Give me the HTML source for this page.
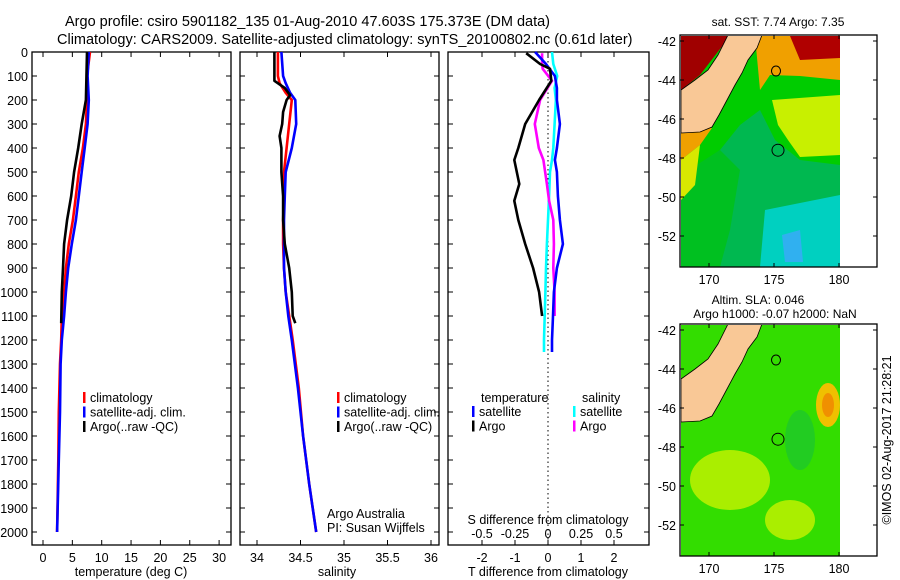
<!DOCTYPE html>
<html><head><meta charset="utf-8"><style>
html,body{margin:0;padding:0;background:#fff;width:900px;height:580px;overflow:hidden}
svg{display:block;font-family:"Liberation Sans",sans-serif}
text{font-size:12.5px;fill:#000}
</style></head><body>
<svg id="fig" width="900" height="580" viewBox="0 0 900 580">
<text x="65" y="26" style="font-size:14.5px">Argo profile: csiro 5901182_135 01-Aug-2010 47.603S 175.373E (DM data)</text>
<text x="57" y="44" style="font-size:14.5px">Climatology: CARS2009. Satellite-adjusted climatology: synTS_20100802.nc (0.61d later)</text>
<g id="p1"></g>
<g id="p2"></g>
<g id="p3"></g>
<g id="m1"></g>
<g id="m2"></g>
<text transform="translate(891,440) rotate(-90)" text-anchor="middle">©IMOS 02-Aug-2017 21:28:21</text>
</svg>
<script>
// ---- data ----
const depthTicks = [0,100,200,300,400,500,600,700,800,900,1000,1100,1200,1300,1400,1500,1600,1700,1800,1900,2000];
const tempTicks = [0,5,10,15,20,25,30];
const salTicks = [34,34.5,35,35.5,36];
const tdiffTicks = [-2,-1,0,1,2];
const sdiffTicks = [-0.5,-0.25,0,0.25,0.5];

const climDepth = [0,100,200,300,400,500,600,700,800,900,1000,1100,1200,1300,1500,1700,2000];
const climTemp = [8.0,7.5,7.5,7.3,6.8,6.1,5.6,5.1,4.4,3.9,3.6,3.2,3.1,2.9,2.7,2.6,2.4];
const satTemp  = [7.8,7.6,7.8,7.6,7.1,6.6,6.1,5.6,4.9,4.3,3.9,3.6,3.2,3.0,2.9,2.7,2.4];
const argoDepth = [0,200,300,400,500,600,700,800,900,1000,1130];
const argoTemp = [7.5,7.3,6.6,6.0,5.3,4.8,4.1,3.6,3.4,3.2,3.1];

const salDepth = [0,100,130,170,200,300,400,500,600,700,800,900,1000,1100,1200,1400,1600,1800,2000];
const climSal = [34.24,34.24,34.26,34.33,34.40,34.37,34.34,34.31,34.31,34.30,34.30,34.31,34.33,34.37,34.41,34.48,34.53,34.60,34.68];
const satSal  = [34.28,34.30,34.33,34.38,34.44,34.45,34.40,34.33,34.32,34.31,34.31,34.31,34.33,34.36,34.40,34.47,34.53,34.60,34.68];
const argoSalDepth = [0,120,150,180,200,250,300,350,400,500,600,700,800,900,1000,1100,1130];
const argoSal = [34.20,34.20,34.32,34.38,34.34,34.30,34.29,34.26,34.28,34.28,34.30,34.30,34.32,34.37,34.40,34.41,34.44];

const dDepthArgo = [5,50,70,120,200,300,400,450,550,620,700,800,900,1000,1100];
const dTempArgo = [-0.66,-0.24,0.06,0.1,-0.27,-0.69,-0.9,-1.02,-0.87,-1.02,-0.9,-0.69,-0.45,-0.27,-0.18];
const dSalArgo  = [-0.045,-0.045,-0.04,0.03,-0.06,-0.1,-0.07,-0.035,-0.008,0.008,0.04,0.045,0.04,0.05,0.05];
const dDepthSat = [0,50,100,150,200,300,400,450,500,600,700,800,900,1000,1100,1200,1250];
const dTempSat = [-0.39,-0.06,0.21,0.27,0.27,0.36,0.27,0.21,0.27,0.3,0.36,0.45,0.27,0.18,0.15,0.12,0.12];
const dSalSat  = [0.03,0.04,0.07,0.05,0.06,0.05,0.04,0.03,0.015,0.008,0,-0.008,-0.015,-0.02,-0.025,-0.03,-0.03];

// ---- helpers ----
const NS='http://www.w3.org/2000/svg';
function mk(parent,tag,attrs,txt){const e=document.createElementNS(NS,tag);for(const k in attrs)e.setAttribute(k,attrs[k]);if(txt!==undefined)e.textContent=txt;parent.appendChild(e);return e;}
const yD = d => 52 + d*0.24;
const TOP=52, BOT=545;

function frame(g,x0,x1,name){
  const r=mk(g,'rect',{x:x0,y:TOP,width:x1-x0,height:BOT-TOP,fill:'none',stroke:'#000','stroke-width':1.3});
  
  
  depthTicks.forEach(d=>{
    mk(g,'line',{x1:x0,x2:x0+5,y1:yD(d),y2:yD(d),stroke:'#000'});
    mk(g,'line',{x1:x1,x2:x1-5,y1:yD(d),y2:yD(d),stroke:'#000'});
  });
}
function xTicks(g,vals,sx,x0,x1,lbl){
  vals.forEach(v=>{const x=sx(v);
    mk(g,'line',{x1:x,x2:x,y1:TOP,y2:TOP+5,stroke:'#000'});
    mk(g,'line',{x1:x,x2:x,y1:BOT,y2:BOT-5,stroke:'#000'});
    if(lbl){const t=mk(g,'text',{x:x,y:BOT+17,'text-anchor':'middle'},String(v));
      
      }
  });
}
function line(g,xs,ds,sx,color,name,w){
  const pts=xs.map((v,i)=>sx(v).toFixed(1)+','+yD(ds[i]).toFixed(1)).join(' ');
  const p=mk(g,'polyline',{points:pts,fill:'none',stroke:color,'stroke-width':w||2.6,'stroke-linejoin':'round'});
  
  
}
function legend(g,x,y,items){
  items.forEach((it,i)=>{
    mk(g,'rect',{x:x,y:y+i*14.5-10,width:2.5,height:11,fill:it[0]});
    const t=mk(g,'text',{x:x+7,y:y+i*14.5},it[1]);
    
    
  });
}

// ---- panel 1 ----
const p1=document.getElementById('p1');
const sxT = v => 43 + v*5.87;
frame(p1,32,231,'temperature-axes');
depthTicks.forEach(d=>{const t=mk(p1,'text',{x:28,y:yD(d)+5,'text-anchor':'end'},String(d));
  
  });
xTicks(p1,tempTicks,sxT,32,231,true);
line(p1,climTemp,climDepth,sxT,'#f00','temp-climatology-line');
line(p1,satTemp,climDepth,sxT,'#00f','temp-satellite-line');
line(p1,argoTemp,argoDepth,sxT,'#000','temp-argo-line');
mk(p1,'text',{x:131,y:576,'text-anchor':'middle'},'temperature (deg C)');
legend(p1,83,402,[['#f00','climatology'],['#00f','satellite-adj. clim.'],['#000','Argo(..raw -QC)']]);

// ---- panel 2 ----
const p2=document.getElementById('p2');
const sxS = v => 257 + (v-34)*87;
frame(p2,240,439,'salinity-axes');
xTicks(p2,salTicks,sxS,240,439,true);
line(p2,climSal,salDepth,sxS,'#f00','sal-climatology-line');
line(p2,satSal,salDepth,sxS,'#00f','sal-satellite-line');
line(p2,argoSal,argoSalDepth,sxS,'#000','sal-argo-line');
mk(p2,'text',{x:337,y:576,'text-anchor':'middle'},'salinity');
legend(p2,337,402,[['#f00','climatology'],['#00f','satellite-adj. clim.'],['#000','Argo(..raw -QC)']]);
mk(p2,'text',{x:327,y:518},'Argo Australia');
mk(p2,'text',{x:327,y:532},'PI: Susan Wijffels');

// ---- panel 3 ----
const p3=document.getElementById('p3');
const sxDT = v => 548 + v*33;
const sxDS = v => 548 + v*132;
frame(p3,448,649,'difference-axes');
xTicks(p3,tdiffTicks,sxDT,448,649,true);
mk(p3,'line',{x1:548,x2:548,y1:TOP,y2:BOT,stroke:'#000','stroke-dasharray':'1.5,3'});
sdiffTicks.forEach(v=>{const t=mk(p3,'text',{x:sxDS(v),y:538,'text-anchor':'middle'},String(v));
  
  });
mk(p3,'text',{x:548,y:524,'text-anchor':'middle'},'S difference from climatology');
mk(p3,'text',{x:548,y:576,'text-anchor':'middle'},'T difference from climatology');
line(p3,dSalSat,dDepthSat,sxDS,'#0ff','sdiff-satellite-line');
line(p3,dSalArgo,dDepthArgo,sxDS,'#f0f','sdiff-argo-line');
line(p3,dTempSat,dDepthSat,sxDT,'#00f','tdiff-satellite-line');
line(p3,dTempArgo,dDepthArgo,sxDT,'#000','tdiff-argo-line');
mk(p3,'text',{x:481,y:402},'temperature');
mk(p3,'text',{x:582,y:402},'salinity');
legend(p3,472,416,[['#00f','satellite'],['#000','Argo']]);
legend(p3,573,416,[['#0ff','satellite'],['#f0f','Argo']]);

// ---- maps ----
const latTicks=[-42,-44,-46,-48,-50,-52];
const lonTicks=[170,175,180];
function map(id,y0,title,title2,layers){
  const g=document.getElementById(id);
  const X=lon=>683+(lon-168)*13, Y=lat=>y0+6+(-42-lat)*19.5;
  const cid='clip'+id;
  const cp=mk(g,'clipPath',{id:cid});mk(cp,'rect',{x:681,y:y0+1,width:159,height:231});
  const inner=mk(g,'g',{'clip-path':'url(#'+cid+')'});
  layers.forEach(l=>mk(inner,l[0],l[1]));
  // land
  mk(inner,'polygon',{points:'728,'+(y0)+' 762,'+(y0)+' 757,'+(y0+13)+' 748,'+(y0+25)+' 742,'+(y0+38)+' 735,'+(y0+50)+' 727,'+(y0+65)+' 719,'+(y0+80)+' 712,'+(y0+92)+' 700,'+(y0+97)+' 681,'+(y0+98)+' 681,'+(y0+55)+' 695,'+(y0+45)+' 708,'+(y0+35)+' 718,'+(y0+20),fill:'#f9c896',stroke:'#000','stroke-width':0.8});
  mk(inner,'ellipse',{cx:776,cy:y0+36,rx:4.5,ry:5,fill:'none',stroke:'#000'});
  mk(inner,'circle',{cx:778,cy:Y(-47.6),r:6,fill:'none',stroke:'#000'});
  const r=mk(g,'rect',{x:680,y:y0,width:197,height:232,fill:'none',stroke:'#000','stroke-width':1.3});
  
  
  latTicks.forEach(l=>{const y=Y(l);
    mk(g,'line',{x1:680,x2:684,y1:y,y2:y,stroke:'#000'});mk(g,'line',{x1:877,x2:873,y1:y,y2:y,stroke:'#000'});
    const t=mk(g,'text',{x:676,y:y+5,'text-anchor':'end'},String(l));
    
    });
  lonTicks.forEach(l=>{const x=X(l);
    mk(g,'line',{x1:x,x2:x,y1:y0,y2:y0+4,stroke:'#000'});mk(g,'line',{x1:x,x2:x,y1:y0+232,y2:y0+228,stroke:'#000'});
    const t=mk(g,'text',{x:x,y:y0+249,'text-anchor':'middle'},String(l));
    
    });
  if(title2){mk(g,'text',{x:758,y:y0-20,'text-anchor':'middle','style':'font-size:12px'},title);mk(g,'text',{x:775,y:y0-6,'text-anchor':'middle','style':'font-size:12px'},title2);}
  else mk(g,'text',{x:778,y:y0-9,'text-anchor':'middle','style':'font-size:12px'},title);
}
map('m1',35,'sat. SST: 7.74  Argo: 7.35',null,[
 ['rect',{x:680,y:35,width:160,height:232,fill:'#00b850'}],
 ['polygon',{points:'681,36 840,36 840,165 800,160 775,140 760,110 740,125 720,150 700,165 681,175',fill:'#00cc00'}],
 ['polygon',{points:'681,175 720,150 740,170 730,230 720,267 681,267',fill:'#00c020'}],
 ['polygon',{points:'755,36 840,36 840,80 800,76 770,75 760,90',fill:'#f0a000'}],
 ['polygon',{points:'790,36 840,36 840,58 800,60',fill:'#b00000'}],
 ['polygon',{points:'772,100 840,95 840,155 800,157 788,140 778,125',fill:'#c8f000'}],
 ['polygon',{points:'681,36 730,36 700,75 681,90',fill:'#a00000'}],
 ['polygon',{points:'681,128 712,128 700,145 681,160',fill:'#f0a000'}],
 ['polygon',{points:'681,160 700,145 695,185 681,200',fill:'#d8e800'}],
 ['polygon',{points:'765,210 840,195 840,267 760,267',fill:'#00d0c0'}],
 ['polygon',{points:'782,235 800,230 803,262 785,262',fill:'#30b0f0'}]
]);
map('m2',324,'Altim. SLA: 0.046','Argo h1000: -0.07  h2000: NaN',[
 ['rect',{x:680,y:324,width:160,height:233,fill:'#33dd00'}],
 ['ellipse',{cx:730,cy:480,rx:40,ry:30,fill:'#aaee00'}],
 ['ellipse',{cx:790,cy:520,rx:25,ry:20,fill:'#aaee00'}],
 ['ellipse',{cx:800,cy:440,rx:15,ry:30,fill:'#22cc22'}],
 ['ellipse',{cx:828,cy:405,rx:12,ry:22,fill:'#f0c000'}],
 ['ellipse',{cx:828,cy:405,rx:6,ry:12,fill:'#f09000'}]
]);
</script>
</body></html>
